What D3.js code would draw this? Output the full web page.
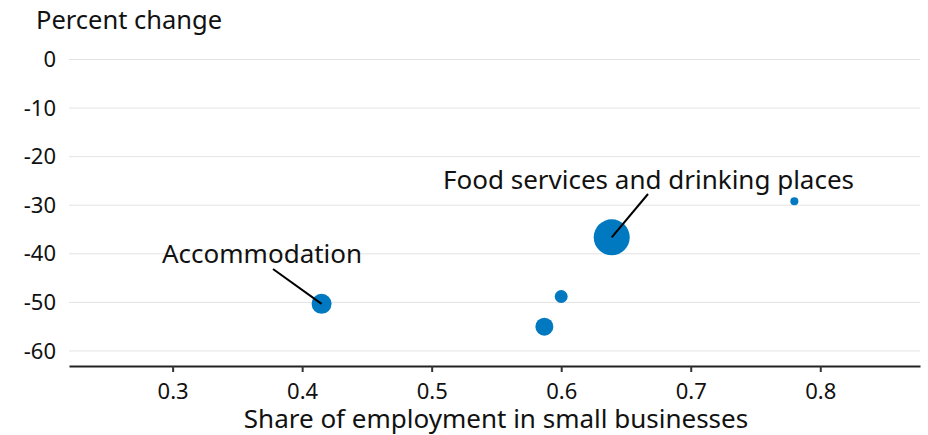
<!DOCTYPE html>
<html>
<head>
<meta charset="utf-8">
<script src="https://cdn.jsdelivr.net/npm/d3@7"></script>
<style>
  html, body { margin: 0; padding: 0; background: #fff; }
  svg { display: block; font-family: "Noto Sans", Lato, sans-serif; }
</style>
</head>
<body>
<svg id="chart" width="928" height="435"></svg>
<script>
// Data
const industries = ["Accommodation", "Food services and drinking places", "Other A", "Other B", "Other C"];
const smallShare = [0.415, 0.639, 0.780, 0.600, 0.587];
const pctChange = [-50.3, -36.6, -29.2, -48.8, -55.0];
const employment = [3.7, 12.0, 0.6, 1.55, 3.0];
const labelled = [true, true, false, false, false];
const xTicks = [0.3, 0.4, 0.5, 0.6, 0.7, 0.8];
const yTicks = [0, -10, -20, -30, -40, -50, -60];

(function () {
const svg = d3.select("#chart");
const mLeft = 69, mRight = 920, mTop = 59.5, mBottom = 366;

const x = d3.scaleLinear().domain([0.22, 0.877]).range([mLeft, mRight]);
const y = d3.scaleLinear().domain([-63.1, 0]).range([mBottom, mTop]);
const r = d3.scaleSqrt().domain([0, 12]).range([0, 18]);

// gridlines
svg.append("g").selectAll("line").data(yTicks).join("line")
  .attr("x1", mLeft).attr("x2", mRight)
  .attr("y1", d => y(d)).attr("y2", d => y(d))
  .attr("stroke", "#e3e3e3").attr("stroke-width", 1);

// y labels
svg.append("g").selectAll("text").data(yTicks).join("text")
  .attr("x", 56).attr("y", d => y(d)).attr("dy", "0.35em")
  .attr("text-anchor", "end").attr("font-size", 22).attr("fill", "#111")
  .text(d => d);

svg.append("text").attr("x", 36).attr("y", 29).attr("font-size", 25.5).attr("fill", "#111")
  .text("Percent change");

// x axis
const xAxis = d3.axisBottom(x).tickValues(xTicks).tickSize(6).tickSizeOuter(0).tickFormat(d3.format(".1f"));
const gx = svg.append("g").attr("transform", `translate(0,${mBottom})`).call(xAxis);
gx.attr("font-family", null).attr("font-size", null);
gx.select(".domain").attr("stroke", "#222").attr("stroke-width", 2);
gx.selectAll(".tick line").attr("stroke", "#333").attr("stroke-width", 2);
gx.selectAll(".tick text").attr("font-size", 22).attr("fill", "#111").attr("dy", "1.1em");

svg.append("text").attr("x", 496).attr("y", 428)
  .attr("text-anchor", "middle").attr("font-size", 26).attr("fill", "#111")
  .text("Share of employment in small businesses");

// points
const data = industries.map((name, i) => ({ name, x: smallShare[i], y: pctChange[i], e: employment[i], lab: labelled[i] }));
svg.append("g").selectAll("circle").data(data).join("circle")
  .attr("cx", d => x(d.x)).attr("cy", d => y(d.y)).attr("r", d => r(d.e))
  .attr("fill", "#0079c1");

// annotations
const ann = [
  { i: 0, tx: 162, ty: 263, lx: 273, ly: 269 },
  { i: 1, tx: 443, ty: 189, lx: 648, ly: 194 }
];
ann.forEach(a => {
  const d = data[a.i];
  svg.append("line").attr("x1", a.lx).attr("y1", a.ly).attr("x2", x(d.x)).attr("y2", y(d.y))
    .attr("stroke", "#000").attr("stroke-width", 2);
  svg.append("text").attr("x", a.tx).attr("y", a.ty).attr("font-size", 26).attr("fill", "#111")
    .text(d.name);
});
})();
</script>
</body>
</html>
